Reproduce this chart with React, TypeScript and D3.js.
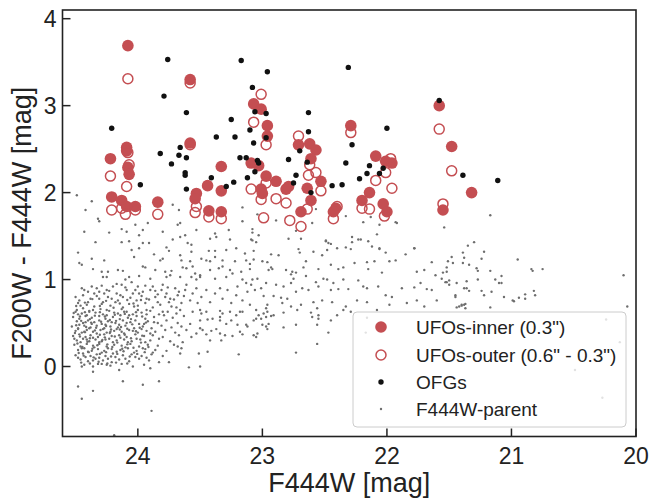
import React from 'react';
import * as d3 from 'd3';

type P = [number, number];

const xTicks = [24, 23, 22, 21, 20];
const yTicks = [0, 1, 2, 3, 4];
const xDomain: [number, number] = [24.605, 20];
const yDomain: [number, number] = [-0.805, 4.1];
const xLabel = 'F444W [mag]';
const yLabel = 'F200W - F444W [mag]';
const legendLabels = ['UFOs-inner (0.3")', 'UFOs-outer (0.6" - 0.3")', 'OFGs', 'F444W-parent'];

const ufoInner: P[] = [
  [24.08,3.69],[23.58,3.30],[24.22,2.39],[24.09,2.52],[24.09,2.48],[24.08,2.29],[24.07,2.21],[24.21,1.95],
  [24.13,1.91],[24.09,1.84],[24.02,1.84],[23.84,1.89],[23.58,2.57],[23.33,2.30],[23.44,2.08],[23.33,2.02],
  [23.53,1.99],[23.54,1.93],[23.43,1.79],[23.33,1.78],[23.07,3.02],[23.01,2.96],[22.96,2.77],[22.96,2.65],
  [23.09,2.34],[23.03,2.31],[22.97,2.19],[22.89,2.13],[23.01,2.04],[23.00,1.99],[22.79,2.07],[22.81,2.04],
  [22.71,2.55],[22.62,2.56],[22.57,2.49],[22.61,2.39],[22.64,2.05],[22.53,2.13],[22.61,1.91],[22.69,1.78],
  [22.41,1.82],[22.43,1.78],[22.29,2.77],[22.20,1.91],[21.58,3.00],[21.48,2.53],[21.32,2.00],[21.55,1.80],
  [22.09,2.42],[22.01,2.36],[21.96,2.34],[22.14,2.00],[22.03,1.87],[22.00,1.78]
];

const ufoOuter: P[] = [
  [24.08,3.31],[23.58,3.26],[24.22,2.19],[24.21,1.80],[24.08,2.46],[24.07,2.32],[24.09,2.07],[24.13,1.82],
  [24.10,1.75],[24.02,1.80],[23.84,1.75],[23.58,2.55],[23.53,1.84],[23.54,1.77],[23.43,1.72],[23.33,1.70],
  [23.01,3.13],[23.07,2.81],[22.97,2.55],[23.09,2.04],[23.01,1.92],[22.99,1.71],[22.97,2.11],[22.89,1.93],
  [22.81,1.88],[22.78,1.68],[22.71,2.65],[22.62,2.32],[22.63,2.20],[22.57,2.23],[22.53,2.02],[22.64,1.81],
  [22.69,1.61],[22.43,1.70],[22.40,1.84],[22.29,2.69],[21.58,2.73],[21.48,2.25],[21.55,1.87],[21.97,2.39],
  [22.01,2.23],[22.09,2.14],[21.96,2.05],[22.14,1.81],[22.20,1.82],[22.02,1.73]
];

const ofgs: P[] = [
  [23.76,3.53],[23.17,3.52],[22.96,3.39],[22.31,3.44],[23.79,3.11],[23.61,2.92],[23.08,3.21],[23.06,2.93],
  [22.97,2.91],[22.63,2.92],[24.21,2.74],[23.25,2.84],[23.37,2.64],[23.22,2.64],[23.10,2.72],[23.07,2.57],
  [22.97,2.63],[22.63,2.70],[22.28,2.55],[23.82,2.45],[23.66,2.52],[23.67,2.43],[23.61,2.40],[23.73,2.33],
  [23.18,2.40],[23.13,2.40],[23.04,2.37],[23.03,2.34],[22.79,2.38],[22.70,2.48],[22.64,2.35],[22.33,2.34],
  [23.62,2.23],[23.62,2.20],[23.41,2.17],[23.29,2.07],[23.23,2.12],[23.12,2.17],[23.06,2.24],[22.73,2.20],
  [22.75,2.11],[22.61,2.00],[22.44,2.08],[22.36,2.09],[22.22,2.16],[23.98,2.09],[23.61,2.04],[21.58,3.06],
  [22.00,2.74],[22.14,2.31],[22.16,2.22],[22.06,2.22],[22.03,2.28],[21.39,2.20],[21.11,2.14]
];

const parent: P[] = [
  // upper-left sparse band
  [24.49,1.97],[24.37,1.90],[24.42,1.80],[23.72,1.86],[23.67,1.80],[23.16,1.83],[24.32,1.70],[24.31,1.67],
  [24.02,1.63],[23.92,1.65],[23.68,1.63],[23.66,1.65],[24.43,1.55],[24.23,1.54],[24.13,1.58],[23.96,1.57],
  [24.09,1.55],[23.99,1.51],[23.80,1.55],[23.62,1.51],[23.53,1.57],[23.38,1.53],[23.27,1.57],[23.16,1.67],
  [23.08,1.58],[24.34,1.43],[24.13,1.43],[24.07,1.44],[23.96,1.42],[23.91,1.42],[23.72,1.46],[23.66,1.49],
  [23.60,1.42],[23.57,1.40],[23.42,1.47],[23.37,1.49],[23.26,1.46],[23.09,1.46],[24.48,1.31],[24.05,1.34],
  [23.99,1.36],[23.87,1.29],[23.77,1.37],[23.75,1.33],[23.66,1.28],[23.57,1.32],[23.43,1.33],[23.38,1.33],
  [23.29,1.34],[23.21,1.36],[23.14,1.30],[24.27,1.22],[24.37,1.24],[24.03,1.26],[23.82,1.22],[23.80,1.24],
  [23.65,1.22],[23.58,1.21],[23.49,1.24],[23.45,1.22],[23.38,1.26],[23.42,1.21],[23.32,1.22],[23.22,1.21],
  [23.13,1.22],[24.47,1.19],[24.45,1.17],[24.36,1.12],[24.29,1.09],[24.24,1.09],[24.16,1.11],[24.12,1.10],
  [23.96,1.15],[23.94,1.14],[23.86,1.11],[23.78,1.09],[23.73,1.10],[23.64,1.14],[23.61,1.13],[23.56,1.15],
  [23.54,1.07],[23.50,1.05],[23.42,1.11],[23.35,1.13],[23.32,1.15],[23.26,1.11],[23.24,1.07],[23.17,1.09],
  [23.10,1.12],[23.10,1.18],[24.28,1.03],[24.25,1.03],[24.10,1.00],[24.07,1.03],[23.99,1.04],[23.90,1.01],
  [23.77,1.03],[23.74,1.05],[23.66,1.03],[23.57,1.03],[23.53,1.00],[23.50,1.03],[23.38,1.01],[23.29,1.03],
  [23.16,1.00],[23.13,0.96],
  // band 0.6 - 1.0 on the left
  [24.47,0.76],[24.48,0.73],[24.44,0.67],[24.41,0.71],[24.43,0.88],[24.37,0.92],[24.33,0.90],[24.35,0.84],
  [24.31,0.86],[24.31,0.78],[24.28,0.74],[24.25,0.88],[24.24,0.80],[24.20,0.92],[24.17,0.84],[24.16,0.76],
  [24.13,0.94],[24.12,0.80],[24.09,0.88],[24.05,0.97],[24.04,0.84],[24.01,0.76],[24.03,0.69],[24.00,0.92],
  [23.99,0.84],[23.96,0.86],[23.93,0.78],[23.90,0.88],[23.88,0.92],[23.86,0.80],[23.84,0.74],[23.81,0.88],
  [23.80,0.94],[23.77,0.84],[23.74,0.78],[23.73,0.69],[23.70,0.90],[23.68,0.82],[23.65,0.73],[23.62,0.88],
  [23.61,0.94],[23.58,0.76],[23.56,0.84],[23.53,0.90],[23.52,0.73],[23.49,0.80],[23.45,0.88],[23.42,0.74],
  [23.38,0.84],[23.34,0.90],[23.32,0.78],[23.28,0.88],[23.25,0.73],[23.21,0.82],[23.20,0.92],[23.16,0.76],
  [23.12,0.86],[23.09,0.94],[23.10,0.71],[24.49,0.65],[24.39,0.63],[24.25,0.65],[24.09,0.63],[23.93,0.65],
  [23.80,0.63],[23.66,0.65],[23.50,0.65],[23.34,0.64],[23.18,0.63],
  [24.46,0.70],[24.40,0.74],[24.35,0.69],[24.29,0.72],[24.22,0.70],[24.18,0.74],[24.12,0.68],[24.07,0.72],
  [24.00,0.70],[23.94,0.73],[23.88,0.68],[23.82,0.71],[23.75,0.74],[23.69,0.68],[24.50,0.80],[24.44,0.82],
  [24.38,0.78],[24.33,0.81],[24.27,0.84],[24.21,0.78],[24.14,0.82],[24.06,0.79],[23.97,0.81],[23.91,0.77],
  [23.84,0.83],[23.78,0.80],[23.71,0.77],[23.63,0.81],[24.45,0.90],[24.40,0.86],[24.29,0.93],[24.23,0.87],
  [24.17,0.95],[24.10,0.91],[24.02,0.88],[23.94,0.93],[23.86,0.87],[23.76,0.91],[23.67,0.86],
  // dense core
  [24.50,0.63],[24.45,0.61],[24.39,0.64],[24.34,0.62],[24.28,0.60],[24.23,0.64],[24.16,0.61],[24.11,0.63],
  [24.04,0.60],[23.97,0.62],[23.90,0.64],[23.83,0.60],[23.76,0.63],[23.69,0.61],[24.52,0.57],[24.47,0.55],
  [24.42,0.58],[24.37,0.56],[24.31,0.58],[24.26,0.55],[24.20,0.57],[24.14,0.59],[24.08,0.56],[24.01,0.58],
  [23.94,0.55],[23.87,0.57],[23.79,0.59],[23.72,0.56],[23.63,0.58],[24.49,0.52],[24.44,0.50],[24.40,0.53],
  [24.35,0.51],[24.29,0.49],[24.24,0.52],[24.18,0.50],[24.12,0.53],[24.06,0.51],[23.99,0.49],[23.92,0.52],
  [23.84,0.50],[23.77,0.53],[23.68,0.50],[24.53,0.46],[24.48,0.44],[24.43,0.47],[24.38,0.45],[24.33,0.47],
  [24.27,0.44],[24.22,0.46],[24.16,0.45],[24.10,0.47],[24.03,0.44],[23.96,0.46],[23.89,0.44],[23.81,0.47],
  [23.73,0.45],[23.65,0.46],[24.50,0.41],[24.45,0.39],[24.41,0.42],[24.36,0.40],[24.30,0.42],[24.25,0.39],
  [24.19,0.41],[24.13,0.40],[24.07,0.42],[24.00,0.39],[23.93,0.41],[23.86,0.40],[23.78,0.42],[23.70,0.39],
  [24.52,0.35],[24.47,0.37],[24.42,0.34],[24.38,0.36],[24.32,0.34],[24.27,0.37],[24.21,0.35],[24.15,0.36],
  [24.09,0.34],[24.02,0.37],[23.95,0.35],[23.88,0.36],[23.80,0.34],[23.67,0.36],[24.49,0.30],[24.44,0.32],
  [24.39,0.29],[24.34,0.31],[24.29,0.29],[24.23,0.32],[24.17,0.30],[24.11,0.31],[24.05,0.29],[23.98,0.31],
  [23.90,0.30],[23.83,0.32],[23.74,0.29],[24.51,0.25],[24.46,0.23],[24.41,0.26],[24.36,0.24],[24.31,0.26],
  [24.25,0.23],[24.19,0.25],[24.13,0.24],[24.06,0.26],[23.99,0.23],[23.92,0.25],[23.84,0.24],[23.71,0.25],
  [24.48,0.19],[24.43,0.21],[24.37,0.18],[24.32,0.20],[24.27,0.18],[24.21,0.20],[24.14,0.19],[24.08,0.21],
  [24.01,0.18],[23.94,0.20],[23.86,0.19],[23.77,0.18],[24.50,0.13],[24.44,0.15],[24.38,0.12],[24.33,0.14],
  [24.26,0.12],[24.20,0.15],[24.12,0.13],[24.05,0.14],[23.97,0.12],[23.89,0.14],[23.80,0.12],[24.46,0.08],
  [24.40,0.06],[24.34,0.09],[24.28,0.07],[24.21,0.05],[24.15,0.08],[24.07,0.06],[23.99,0.09],[23.91,0.07],
  [23.83,0.05],[24.43,0.02],[24.36,0.00],[24.29,0.03],[24.22,0.01],[24.13,0.03],[24.04,0.00],[23.95,0.02],
  [24.48,0.60],[24.41,0.59],[24.36,0.65],[24.30,0.66],[24.25,0.59],[24.19,0.62],[24.13,0.66],[24.07,0.59],
  [24.00,0.65],[23.93,0.60],[24.47,0.48],[24.42,0.51],[24.37,0.49],[24.31,0.53],[24.26,0.48],[24.21,0.51],
  [24.15,0.48],[24.09,0.50],[24.02,0.53],[23.95,0.49],[23.87,0.51],[24.48,0.43],[24.43,0.40],[24.39,0.44],
  [24.33,0.38],[24.28,0.43],[24.22,0.40],[24.17,0.43],[24.11,0.38],[24.04,0.41],[23.97,0.43],[23.90,0.38],
  [24.51,0.32],[24.46,0.28],[24.41,0.31],[24.36,0.33],[24.31,0.28],[24.26,0.31],[24.20,0.28],[24.14,0.33],
  [24.08,0.28],[24.01,0.32],[23.94,0.28],[24.45,0.21],[24.40,0.17],[24.35,0.22],[24.29,0.16],[24.24,0.21],
  [24.17,0.17],[24.10,0.22],[24.03,0.16],[23.96,0.21],[23.88,0.16],[24.48,0.10],[24.42,0.11],[24.36,0.07],
  [24.31,0.10],[24.24,0.09],[24.18,0.11],[24.10,0.09],[24.02,0.11],[23.93,0.10],
  // extra density in the core
  [24.515,0.615],[24.465,0.575],[24.425,0.625],[24.385,0.545],[24.345,0.585],[24.305,0.625],[24.265,0.575],
  [24.225,0.535],[24.185,0.595],[24.145,0.545],[24.105,0.605],[24.055,0.545],[24.015,0.625],[23.965,0.575],
  [24.495,0.475],[24.455,0.525],[24.415,0.455],[24.375,0.505],[24.335,0.445],[24.295,0.515],[24.255,0.465],
  [24.215,0.425],[24.175,0.525],[24.135,0.455],[24.085,0.435],[24.045,0.485],[23.985,0.445],[23.935,0.505],
  [24.505,0.385],[24.465,0.345],[24.425,0.395],[24.385,0.325],[24.345,0.415],[24.305,0.365],[24.265,0.335],
  [24.225,0.385],[24.185,0.345],[24.145,0.425],[24.105,0.365],[24.055,0.325],[24.015,0.405],[23.965,0.355],
  [24.485,0.265],[24.445,0.225],[24.405,0.285],[24.365,0.205],[24.325,0.245],[24.285,0.305],[24.245,0.255],
  [24.205,0.225],[24.165,0.275],[24.125,0.205],[24.085,0.255],[24.035,0.215],[23.975,0.275],[23.915,0.225],
  [24.475,0.155],[24.435,0.125],[24.395,0.165],[24.355,0.105],[24.305,0.145],[24.255,0.165],[24.215,0.115],
  [24.165,0.145],[24.115,0.175],[24.065,0.115],[24.005,0.145],[23.945,0.165],[24.455,0.045],[24.385,0.035],
  [24.315,0.055],[24.245,0.035],[24.175,0.045],[24.085,0.035],[24.495,0.695],[24.425,0.735],[24.365,0.775],
  [24.305,0.695],[24.255,0.755],[24.195,0.675],[24.145,0.725],[24.085,0.765],[24.035,0.725],[23.975,0.765],
  // core outskirts and negatives
  [24.48,-0.23],[24.45,-0.37],[24.36,-0.28],[24.12,-0.17],[23.96,-0.21],[23.83,-0.17],[23.89,-0.51],
  [24.19,-0.79],[23.90,-0.02],[23.75,0.05],[23.59,-0.01],[23.50,0.00],[23.51,0.15],[23.44,0.17],[23.19,0.14],
  [24.15,-0.04],[24.36,-0.06],[24.45,0.00],[24.25,0.02],[24.32,0.03],
  // middle-left medium density
  [23.56,0.63],[23.49,0.61],[23.45,0.63],[23.34,0.57],[23.32,0.61],[23.26,0.63],[23.21,0.59],[23.16,0.63],
  [23.50,0.53],[23.44,0.54],[23.40,0.55],[23.34,0.53],[23.29,0.49],[23.25,0.53],[23.20,0.48],[23.13,0.48],
  [23.12,0.46],[23.50,0.44],[23.48,0.42],[23.45,0.37],[23.41,0.41],[23.37,0.43],[23.34,0.38],[23.30,0.36],
  [23.24,0.35],[23.18,0.40],[23.16,0.37],[23.42,0.30],[23.33,0.30],[23.53,0.38],[23.57,0.34],[23.61,0.42],
  [23.58,0.49],[23.64,0.28],[23.68,0.23],[23.66,0.15],[23.65,0.21],
  // middle region
  [23.04,1.75],[22.89,1.68],[22.60,1.65],[22.73,1.56],[22.33,1.73],[22.19,1.66],[21.93,1.66],[21.92,1.65],
  [22.06,1.63],[21.54,1.60],[22.08,1.52],[23.08,1.54],[23.03,1.51],[23.08,1.45],[23.05,1.43],[22.79,1.47],
  [22.69,1.47],[22.49,1.44],[22.47,1.42],[22.28,1.43],[22.21,1.46],[22.15,1.44],[22.29,1.35],[22.40,1.36],
  [22.33,1.37],[22.52,1.28],[22.59,1.32],[22.48,1.34],[22.71,1.35],[22.70,1.31],[22.93,1.29],[22.87,1.28],
  [23.07,1.33],[23.07,1.23],[23.00,1.21],[22.96,1.20],[22.93,1.14],[22.92,1.12],[22.95,1.11],[22.81,1.11],
  [22.76,1.09],[22.77,1.06],[22.67,1.14],[22.65,1.21],[22.55,1.12],[22.45,1.17],[22.39,1.12],[22.35,1.14],
  [22.26,1.19],[22.16,1.20],[22.10,1.21],[22.06,1.35],[22.01,1.31],[21.98,1.21],[21.93,1.22],[21.85,1.29],
  [21.78,1.36],[21.64,1.20],[21.70,1.11],[21.76,1.09],[21.73,0.96],[21.61,1.05],[21.56,1.01],[21.53,0.97],
  [21.55,1.08],[22.04,1.08],[22.15,1.12],[22.23,0.99],[22.35,1.00],[22.43,0.96],[22.48,1.00],[22.51,1.01],
  [22.57,0.97],[22.65,1.04],[22.73,1.08],[22.75,1.01],[22.77,0.96],[22.83,0.92],[22.89,0.94],[22.97,0.96],
  [23.04,1.01],[23.08,1.00],[23.01,0.90],[23.06,0.88],[22.99,0.81],[22.91,0.81],[22.85,0.79],[22.80,0.78],
  [22.73,0.86],[22.68,0.90],[22.63,0.88],[22.55,0.92],[22.45,0.88],[22.39,0.89],[22.31,0.89],[22.19,0.92],
  [22.16,0.90],[22.07,0.92],[22.01,0.82],[21.96,0.80],[21.88,0.90],[21.78,0.91],[21.68,0.89],[21.64,0.88],
  [21.60,0.76],[21.70,0.69],[21.76,0.76],[21.84,0.73],[21.98,0.71],[22.08,0.65],[22.16,0.74],[22.24,0.76],
  [22.33,0.69],[22.44,0.74],[22.52,0.76],[22.59,0.74],[22.69,0.71],[22.77,0.69],[22.84,0.73],[22.96,0.71],
  [22.97,0.67],[23.05,0.65],[22.72,0.65],[22.56,0.67],[22.57,1.81],[22.37,1.82],[22.13,1.72],[22.28,1.49],
  [22.23,1.46],[22.12,1.38],[22.06,1.36],[22.49,1.45],[22.45,1.41],[21.78,1.36],
  // lower middle
  [23.07,0.53],[23.05,0.55],[23.03,0.59],[23.01,0.55],[22.99,0.61],[22.97,0.57],[22.96,0.63],[22.93,0.58],
  [22.91,0.59],[23.00,0.48],[22.97,0.46],[22.95,0.49],[22.96,0.43],[23.07,0.36],[23.05,0.34],[23.04,0.38],
  [22.83,0.62],[22.83,0.45],[22.73,0.48],[22.61,0.62],[22.60,0.57],[22.55,0.59],[22.55,0.55],[22.56,0.48],
  [22.45,0.53],[22.40,0.59],[22.47,0.39],[22.56,0.26],[22.73,0.16],[22.35,0.65],[22.29,0.63],[22.17,0.39],
  [22.16,0.56],
  // right side
  [21.17,1.74],[21.30,1.43],[21.35,1.39],[21.39,1.31],[21.22,1.32],[21.48,1.26],[21.38,1.25],[21.51,1.21],
  [21.47,1.19],[21.39,1.19],[21.34,1.17],[21.24,1.24],[20.95,1.23],[21.52,1.14],[21.28,1.13],[21.27,1.10],
  [21.17,1.10],[20.84,1.12],[20.83,1.10],[20.75,1.12],[21.08,1.04],[21.52,1.09],[21.50,0.99],[21.52,0.97],
  [21.50,0.94],[21.44,0.96],[21.36,0.98],[21.27,1.00],[21.13,1.00],[21.10,0.96],[21.08,0.96],[21.38,0.90],
  [21.36,0.90],[21.34,0.87],[21.24,0.87],[21.16,0.86],[20.82,0.87],[21.45,0.82],[21.45,0.80],[21.22,0.82],
  [21.06,0.80],[20.99,0.76],[20.94,0.79],[20.89,0.83],[20.89,0.78],[20.81,0.82],[21.44,0.68],[21.40,0.70],
  [21.38,0.71],[21.37,0.67],[21.17,0.68],[20.10,1.05],[20.07,0.69],[21.42,0.69],[21.40,0.71],[21.37,0.72],
  [20.98,0.75],[20.24,0.54],[20.13,0.28],[20.49,-0.04],[20.27,-0.36]
];

const RED = '#c44e52';
const GREY = '#6e6e6e';
const FONT = '"Liberation Sans", Arial, Helvetica, sans-serif';
const TXT = '#222';

export default function App() {
  const W = 652, H = 504;
  const m = { left: 62.5, right: 636, top: 10, bottom: 436.5 };
  const x = d3.scaleLinear().domain(xDomain).range([m.left, m.right]);
  const y = d3.scaleLinear().domain(yDomain).range([m.bottom, m.top]);

  const legendX = 353, legendY = 312, legendW = 273, legendH = 115;
  const rows = [327, 355, 382, 409];

  return (
    <div style={{ position: 'absolute', left: 0, top: 0 }}>
      <svg width={W} height={H} style={{ display: 'block', background: '#fff' }}>
        <defs>
          <clipPath id="plotclip">
            <rect x={m.left} y={m.top} width={m.right - m.left} height={m.bottom - m.top} />
          </clipPath>
        </defs>
        <g clipPath="url(#plotclip)">
          {parent.map((d, i) => (
            <circle key={'p' + i} cx={x(d[0])} cy={y(d[1])} r={1.2} fill={GREY} />
          ))}
          {ufoInner.map((d, i) => (
            <circle key={'i' + i} cx={x(d[0])} cy={y(d[1])} r={5.8} fill={RED} />
          ))}
          {ufoOuter.map((d, i) => (
            <circle key={'o' + i} cx={x(d[0])} cy={y(d[1])} r={5} fill="none" stroke={RED} strokeWidth={1.5} />
          ))}
          {ofgs.map((d, i) => (
            <circle key={'g' + i} cx={x(d[0])} cy={y(d[1])} r={2.7} fill="#111" />
          ))}
        </g>
        {xTicks.map((t) => (
          <g key={'xt' + t}>
            <line x1={x(t)} x2={x(t)} y1={m.bottom} y2={m.bottom - 8} stroke={TXT} strokeWidth={1.5} />
            <text x={x(t)} y={m.bottom + 27} textAnchor="middle" fontFamily={FONT} fontSize={23} fill={TXT}>{t}</text>
          </g>
        ))}
        {yTicks.map((t) => (
          <g key={'yt' + t}>
            <line x1={m.left} x2={m.left + 8} y1={y(t)} y2={y(t)} stroke={TXT} strokeWidth={1.5} />
            <text x={m.left - 6} y={y(t)} dy="0.36em" textAnchor="end" fontFamily={FONT} fontSize={23} fill={TXT}>{t}</text>
          </g>
        ))}
        <rect x={m.left} y={m.top} width={m.right - m.left} height={m.bottom - m.top} fill="none" stroke={TXT} strokeWidth={1.6} />
        <text x={(m.left + m.right) / 2} y={492} textAnchor="middle" fontFamily={FONT} fontSize={27} fill={TXT}>{xLabel}</text>
        <text transform={`translate(31, ${(m.top + m.bottom) / 2}) rotate(-90)`} textAnchor="middle" fontFamily={FONT} fontSize={27} fill={TXT}>{yLabel}</text>
        <rect x={legendX} y={legendY} width={legendW} height={legendH} rx={4} fill="#fff" fillOpacity={0.8} stroke="#cccccc" strokeWidth={1} />
        <circle cx={381} cy={rows[0]} r={5.8} fill={RED} />
        <circle cx={381} cy={rows[1]} r={5} fill="none" stroke={RED} strokeWidth={1.5} />
        <circle cx={381} cy={rows[2]} r={2.7} fill="#111" />
        <circle cx={381} cy={rows[3]} r={1.2} fill={GREY} />
        {legendLabels.map((l, i) => (
          <text key={l} x={416} y={rows[i]} dy="0.36em" fontFamily={FONT} fontSize={19} fill={TXT}>{l}</text>
        ))}
      </svg>
    </div>
  );
}
